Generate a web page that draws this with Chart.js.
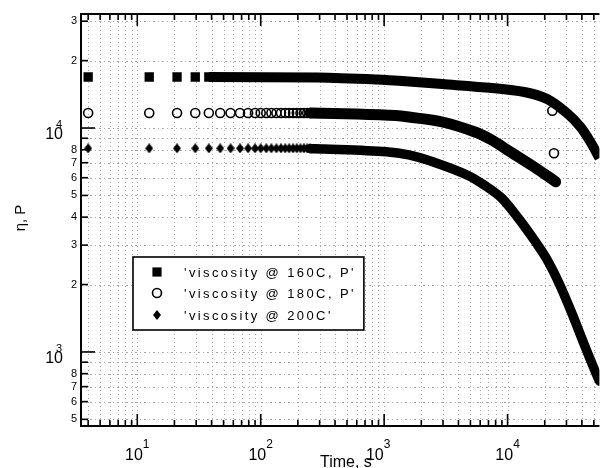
<!DOCTYPE html>
<html><head><meta charset="utf-8">
<script src="https://cdn.jsdelivr.net/npm/chart.js@4.4.1/dist/chart.umd.min.js"></script>
<style>html,body{margin:0;padding:0;background:#fff;overflow:hidden}canvas{display:block}</style>
</head><body>
<canvas id="c" width="606" height="468"></canvas>
<script>
// ---- axis limits (log scales) ----
const X_MIN = 3.5, X_MAX = 55460;
const Y_MIN = 467, Y_MAX = 32300;

// ---- tick values / labels ----
const xTickValues = [4,5,6,7,8,9,10,20,30,40,50,60,70,80,90,100,200,300,400,500,600,700,800,900,
  1000,2000,3000,4000,5000,6000,7000,8000,9000,10000,20000,30000,40000,50000];
const xMajorTicks = [10, 100, 1000, 10000];
const xMajorExps = ['1', '2', '3', '4'];
const yTickValues = [500,600,700,800,900,1000,2000,3000,4000,5000,6000,7000,8000,9000,10000,20000,30000];
const yMinorLabelValues = [500,600,700,800,2000,3000,4000,5000,6000,7000,8000,20000,30000];
const yMinorLabels = ['5','6','7','8','2','3','4','5','6','7','8','2','3'];
const yMajorTicks = [1000, 10000];
const yMajorExps = ['3', '4'];
const xTitle = 'Time, s';
const yTitle = 'η, P';

// ---- series ----
const seriesNames = ["'viscosity @ 160C, P'", "'viscosity @ 180C, P'", "'viscosity @ 200C'"];

// 160C (filled squares)
const mark160t = [4, 12.5, 21, 29.5, 38];
const mark160v = [16900, 16900, 16900, 16900, 16900];
const band160t = [38, 286, 860, 1585, 2965, 7450, 13680, 20890, 30200, 39080, 46990, 55460, 61940];
const band160v = [16900, 16800, 16460, 16130, 15710, 15090, 14480, 13470, 11670, 10100, 8660, 7345, 6560];

// 180C (open circles)
const mark180t = [4, 12.5, 21, 29.5, 38, 47, 57, 68, 79, 90, 100, 111, 122, 134, 146, 158, 170, 183, 196, 210, 224, 238, 252, 23040, 23770];
const mark180v = [11670, 11670, 11670, 11670, 11670, 11670, 11670, 11670, 11670, 11670, 11670, 11670, 11670,
  11670, 11670, 11670, 11670, 11670, 11670, 11670, 11670, 11670, 11670, 11950, 7710];
const band180t = [252, 597, 1247, 1585, 2965, 5445, 7450, 10000, 16440, 24530];
const band180v = [11670, 11550, 11370, 11200, 10640, 9600, 8840, 7970, 6700, 5755];

// 200C (filled diamonds)
const mark200t = [4, 12.5, 21, 29.5, 38, 47, 57, 68, 79, 90, 100, 111, 122, 134, 146, 158, 170, 183, 196, 210, 224, 238, 252];
const mark200v = [8115, 8115, 8115, 8115, 8115, 8115, 8115, 8115, 8115, 8115, 8115, 8115, 8115,
  8115, 8115, 8115, 8115, 8115, 8115, 8115, 8115, 8115, 8115];
const band200t = [252, 325, 1038, 1585, 2606, 4786, 6546, 8954, 12020, 16440, 20510, 26060, 33110, 41300, 51520, 55460, 61940];
const band200v = [8080, 8060, 7840, 7580, 6995, 6140, 5538, 4870, 4005, 3162, 2628, 2032, 1494, 1097, 814, 742, 643];

// ---- helpers ----
const pts = (t, v) => t.map((x, i) => ({x, y: v[i]}));
function makeDiamond(w, h) {
  const c = document.createElement('canvas'); c.width = w; c.height = h;
  const g = c.getContext('2d'); g.fillStyle = '#000';
  g.beginPath(); g.moveTo(w / 2, 0); g.lineTo(w, h / 2); g.lineTo(w / 2, h); g.lineTo(0, h / 2); g.closePath(); g.fill();
  return c;
}
const diamond = makeDiamond(8, 10);
const FONT = '"Liberation Sans", Arial, Helvetica, sans-serif';

const bandBase = {showLine: true, pointRadius: 0, borderColor: '#000', backgroundColor: '#000',
  borderJoinStyle: 'round', tension: 0.3, fill: false};

const datasets = [
  Object.assign({}, bandBase, {label: 'b160', data: pts(band160t, band160v), borderWidth: 10, borderCapStyle: 'butt'}),
  {label: seriesNames[0], data: pts(mark160t, mark160v), showLine: false, pointStyle: 'rect', pointRadius: 6.6,
    pointBorderWidth: 0, backgroundColor: '#000', borderColor: '#000'},
  Object.assign({}, bandBase, {label: 'b180', data: pts(band180t, band180v), borderWidth: 11, borderCapStyle: 'round'}),
  {label: seriesNames[1], data: pts(mark180t, mark180v), showLine: false, pointStyle: 'circle', pointRadius: 4.5,
    pointBorderWidth: 1.6, backgroundColor: 'rgba(0,0,0,0)', borderColor: '#000'},
  Object.assign({}, bandBase, {label: 'b200', data: pts(band200t, band200v), borderWidth: 9.5, borderCapStyle: 'round'}),
  {label: seriesNames[2], data: pts(mark200t, mark200v), showLine: false, pointStyle: diamond, pointRadius: 5,
    backgroundColor: '#000', borderColor: '#000'}
];

function line(ctx, x1, y1, x2, y2) { ctx.beginPath(); ctx.moveTo(x1, y1); ctx.lineTo(x2, y2); ctx.stroke(); }

const matlabAxes = {
  id: 'matlabAxes',
  beforeDatasetsDraw(chart) {
    const {ctx, chartArea: a, scales: {x, y}} = chart;
    ctx.save();
    ctx.strokeStyle = '#a8a8a8'; ctx.lineWidth = 1; ctx.setLineDash([1, 3]);
    for (const v of xTickValues) {
      const px = Math.round(x.getPixelForValue(v)) + 0.5;
      line(ctx, px, a.top, px, a.bottom);
    }
    ctx.setLineDash([2, 3, 1, 3]);
    for (const v of yTickValues) {
      const py = Math.round(y.getPixelForValue(v)) + 0.5;
      line(ctx, a.left, py, a.right, py);
    }
    ctx.restore();
  },
  afterDatasetsDraw(chart) {
    const {ctx, chartArea: a, scales: {x, y}} = chart;
    ctx.save();
    ctx.strokeStyle = '#000'; ctx.fillStyle = '#000';
    // ticks
    ctx.lineWidth = 1.6;
    for (const v of xTickValues) {
      const px = x.getPixelForValue(v);
      const len = xMajorTicks.includes(v) ? 12 : 6;
      line(ctx, px, a.bottom, px, a.bottom - len);
      line(ctx, px, a.top, px, a.top + len);
    }
    for (const v of yTickValues) {
      const py = y.getPixelForValue(v);
      const len = yMajorTicks.includes(v) ? 14 : 7;
      line(ctx, a.left, py, a.left + len, py);
    }
    // axis lines
    ctx.lineWidth = 2;
    line(ctx, a.left, a.top, a.right, a.top);
    line(ctx, a.left, a.bottom, a.right, a.bottom);
    line(ctx, a.left, a.top - 1, a.left, a.bottom + 1);

    // y minor labels
    ctx.font = '11px ' + FONT; ctx.textAlign = 'right'; ctx.textBaseline = 'middle';
    yMinorLabelValues.forEach((v, i) => ctx.fillText(yMinorLabels[i], a.left - 4, y.getPixelForValue(v)));
    // y major labels
    yMajorTicks.forEach((v, i) => {
      const py = y.getPixelForValue(v);
      ctx.font = '16px ' + FONT; ctx.textAlign = 'right'; ctx.textBaseline = 'alphabetic';
      ctx.fillText('10', 63, py + 11);
      ctx.font = '11px ' + FONT; ctx.textAlign = 'left';
      ctx.fillText(yMajorExps[i], 56, py);
    });
    // x major labels
    xMajorTicks.forEach((v, i) => {
      const px = x.getPixelForValue(v) + (v === 1000 ? -6 : 0);
      ctx.font = '16px ' + FONT; ctx.textBaseline = 'alphabetic';
      const w1 = ctx.measureText('10').width;
      ctx.font = '12px ' + FONT;
      const w2 = ctx.measureText(xMajorExps[i]).width;
      const x0 = px - (w1 + w2) / 2;
      ctx.textAlign = 'left';
      ctx.font = '16px ' + FONT; ctx.fillText('10', x0, 460);
      ctx.font = '12px ' + FONT; ctx.fillText(xMajorExps[i], x0 + w1, 448);
    });
    // axis titles
    ctx.font = '16px ' + FONT; ctx.textAlign = 'left'; ctx.textBaseline = 'alphabetic';
    ctx.fillText(xTitle, 320, 467);
    ctx.save();
    ctx.translate(25, 218); ctx.rotate(-Math.PI / 2);
    ctx.font = '15px ' + FONT; ctx.textAlign = 'center';
    ctx.fillText(yTitle, 0, 0);
    ctx.restore();

    // legend
    const lx = 133, ly = 257;
    ctx.font = '13px ' + FONT; ctx.letterSpacing = '2.4px';
    const tw = Math.max(...seriesNames.map(s => ctx.measureText(s).width));
    const lw = 184 - lx + tw + 8, lh = 73;
    ctx.fillStyle = '#fff'; ctx.fillRect(lx, ly, lw, lh);
    ctx.strokeStyle = '#000'; ctx.lineWidth = 1.6; ctx.strokeRect(lx, ly, lw, lh);
    ctx.fillStyle = '#000';
    const rows = [272, 293, 315];
    ctx.fillRect(157 - 4.6, rows[0] - 4.6, 9.2, 9.2);
    ctx.lineWidth = 1.6; ctx.beginPath(); ctx.arc(157, rows[1], 4.5, 0, Math.PI * 2); ctx.stroke();
    ctx.drawImage(diamond, 157 - 4, rows[2] - 5);
    ctx.textAlign = 'left'; ctx.textBaseline = 'middle';
    seriesNames.forEach((s, i) => ctx.fillText(s, 184, rows[i] + 1));
    ctx.letterSpacing = '0px';
    ctx.restore();
  }
};

new Chart(document.getElementById('c'), {
  type: 'scatter',
  data: {datasets},
  options: {
    responsive: false, animation: false,
    layout: {padding: {left: 81, top: 14, right: 0, bottom: 42}},
    scales: {
      x: {type: 'logarithmic', min: X_MIN, max: X_MAX, display: false},
      y: {type: 'logarithmic', min: Y_MIN, max: Y_MAX, display: false}
    },
    plugins: {legend: {display: false}, tooltip: {enabled: false}}
  },
  plugins: [matlabAxes]
});
</script>
</body></html>
